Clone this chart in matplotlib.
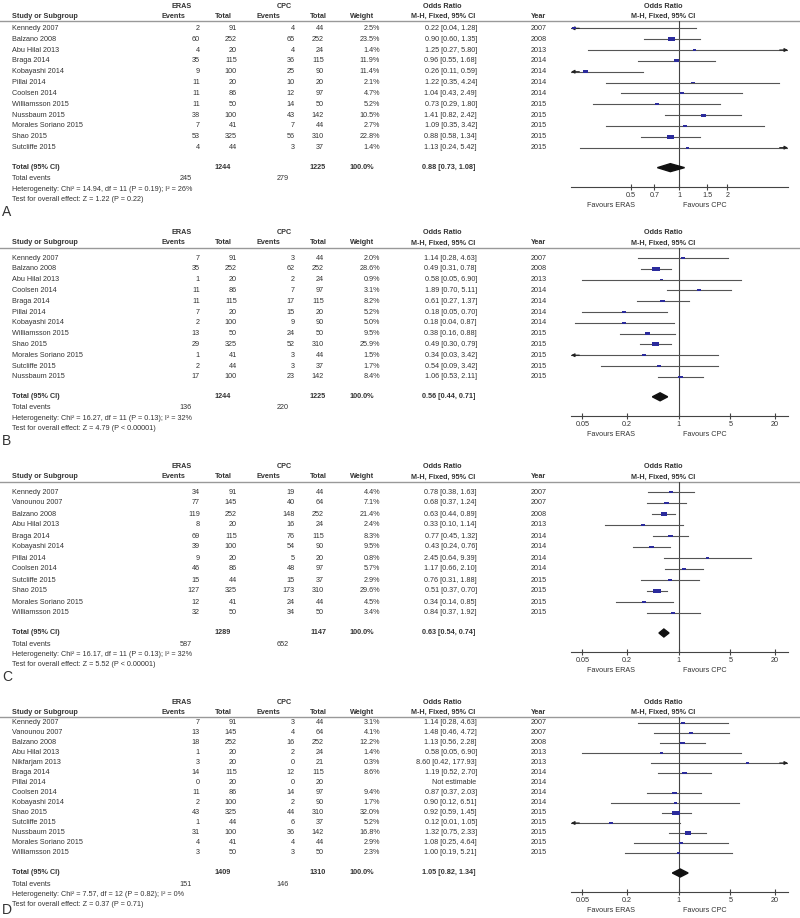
import numpy as np
import matplotlib
matplotlib.use("Agg")
import matplotlib.pyplot as plt
from matplotlib.path import Path
from matplotlib.patches import Polygon
from matplotlib.ticker import NullLocator

plt.rcParams['font.family'] = ['Liberation Sans', 'DejaVu Sans']

# ---- panel A ----
a_study = ["Kennedy 2007", "Balzano 2008", "Abu Hilal 2013", "Braga 2014", "Kobayashi 2014", "Pillai 2014",
           "Coolsen 2014", "Williamsson 2015", "Nussbaum 2015", "Morales Soriano 2015", "Shao 2015", "Sutcliffe 2015"]
a_eras_ev = [2, 60, 4, 35, 9, 11, 11, 11, 38, 7, 53, 4]
a_eras_tot = [91, 252, 20, 115, 100, 20, 86, 50, 100, 41, 325, 44]
a_cpc_ev = [4, 65, 4, 36, 25, 10, 12, 14, 43, 7, 56, 3]
a_cpc_tot = [44, 252, 24, 115, 90, 20, 97, 50, 142, 44, 310, 37]
a_weight = [2.5, 23.5, 1.4, 11.9, 11.4, 2.1, 4.7, 5.2, 10.5, 2.7, 22.8, 1.4]
a_or = [0.22, 0.90, 1.25, 0.96, 0.26, 1.22, 1.04, 0.73, 1.41, 1.09, 0.88, 1.13]
a_lo = [0.04, 0.60, 0.27, 0.55, 0.11, 0.35, 0.43, 0.29, 0.82, 0.35, 0.58, 0.24]
a_hi = [1.28, 1.35, 5.80, 1.68, 0.59, 4.24, 2.49, 1.80, 2.42, 3.42, 1.34, 5.42]
a_year = [2007, 2008, 2013, 2014, 2014, 2014, 2014, 2015, 2015, 2015, 2015, 2015]
a_totals = [1244, 1225]
a_events = [245, 279]
a_pooled = [0.88, 0.73, 1.08]
a_het = "Chi² = 14.94, df = 11 (P = 0.19); I² = 26%"
a_test = "Z = 1.22 (P = 0.22)"

# ---- panel B ----
b_study = ["Kennedy 2007", "Balzano 2008", "Abu Hilal 2013", "Coolsen 2014", "Braga 2014", "Pillai 2014",
           "Kobayashi 2014", "Williamsson 2015", "Shao 2015", "Morales Soriano 2015", "Sutcliffe 2015", "Nussbaum 2015"]
b_eras_ev = [7, 35, 1, 11, 11, 7, 2, 13, 29, 1, 2, 17]
b_eras_tot = [91, 252, 20, 86, 115, 20, 100, 50, 325, 41, 44, 100]
b_cpc_ev = [3, 62, 2, 7, 17, 15, 9, 24, 52, 3, 3, 23]
b_cpc_tot = [44, 252, 24, 97, 115, 20, 90, 50, 310, 44, 37, 142]
b_weight = [2.0, 28.6, 0.9, 3.1, 8.2, 5.2, 5.0, 9.5, 25.9, 1.5, 1.7, 8.4]
b_or = [1.14, 0.49, 0.58, 1.89, 0.61, 0.18, 0.18, 0.38, 0.49, 0.34, 0.54, 1.06]
b_lo = [0.28, 0.31, 0.05, 0.70, 0.27, 0.05, 0.04, 0.16, 0.30, 0.03, 0.09, 0.53]
b_hi = [4.63, 0.78, 6.90, 5.11, 1.37, 0.70, 0.87, 0.88, 0.79, 3.42, 3.42, 2.11]
b_year = [2007, 2008, 2013, 2014, 2014, 2014, 2014, 2015, 2015, 2015, 2015, 2015]
b_totals = [1244, 1225]
b_events = [136, 220]
b_pooled = [0.56, 0.44, 0.71]
b_het = "Chi² = 16.27, df = 11 (P = 0.13); I² = 32%"
b_test = "Z = 4.79 (P < 0.00001)"

# ---- panel C ----
c_study = ["Kennedy 2007", "Vanounou 2007", "Balzano 2008", "Abu Hilal 2013", "Braga 2014", "Kobayashi 2014",
           "Pillai 2014", "Coolsen 2014", "Sutcliffe 2015", "Shao 2015", "Morales Soriano 2015", "Williamsson 2015"]
c_eras_ev = [34, 77, 119, 8, 69, 39, 9, 46, 15, 127, 12, 32]
c_eras_tot = [91, 145, 252, 20, 115, 100, 20, 86, 44, 325, 41, 50]
c_cpc_ev = [19, 40, 148, 16, 76, 54, 5, 48, 15, 173, 24, 34]
c_cpc_tot = [44, 64, 252, 24, 115, 90, 20, 97, 37, 310, 44, 50]
c_weight = [4.4, 7.1, 21.4, 2.4, 8.3, 9.5, 0.8, 5.7, 2.9, 29.6, 4.5, 3.4]
c_or = [0.78, 0.68, 0.63, 0.33, 0.77, 0.43, 2.45, 1.17, 0.76, 0.51, 0.34, 0.84]
c_lo = [0.38, 0.37, 0.44, 0.10, 0.45, 0.24, 0.64, 0.66, 0.31, 0.37, 0.14, 0.37]
c_hi = [1.63, 1.24, 0.89, 1.14, 1.32, 0.76, 9.39, 2.10, 1.88, 0.70, 0.85, 1.92]
c_year = [2007, 2007, 2008, 2013, 2014, 2014, 2014, 2014, 2015, 2015, 2015, 2015]
c_totals = [1289, 1147]
c_events = [587, 652]
c_pooled = [0.63, 0.54, 0.74]
c_het = "Chi² = 16.17, df = 11 (P = 0.13); I² = 32%"
c_test = "Z = 5.52 (P < 0.00001)"

# ---- panel D ----
d_study = ["Kennedy 2007", "Vanounou 2007", "Balzano 2008", "Abu Hilal 2013", "Nikfarjam 2013", "Braga 2014",
           "Pillai 2014", "Coolsen 2014", "Kobayashi 2014", "Shao 2015", "Sutcliffe 2015", "Nussbaum 2015",
           "Morales Soriano 2015", "Williamsson 2015"]
d_eras_ev = [7, 13, 18, 1, 3, 14, 0, 11, 2, 43, 1, 31, 4, 3]
d_eras_tot = [91, 145, 252, 20, 20, 115, 20, 86, 100, 325, 44, 100, 41, 50]
d_cpc_ev = [3, 4, 16, 2, 0, 12, 0, 14, 2, 44, 6, 36, 4, 3]
d_cpc_tot = [44, 64, 252, 24, 21, 115, 20, 97, 90, 310, 37, 142, 44, 50]
d_weight = [3.1, 4.1, 12.2, 1.4, 0.3, 8.6, np.nan, 9.4, 1.7, 32.0, 5.2, 16.8, 2.9, 2.3]
d_or = [1.14, 1.48, 1.13, 0.58, 8.60, 1.19, np.nan, 0.87, 0.90, 0.92, 0.12, 1.32, 1.08, 1.00]
d_lo = [0.28, 0.46, 0.56, 0.05, 0.42, 0.52, np.nan, 0.37, 0.12, 0.59, 0.01, 0.75, 0.25, 0.19]
d_hi = [4.63, 4.72, 2.28, 6.90, 177.93, 2.70, np.nan, 2.03, 6.51, 1.45, 1.05, 2.33, 4.64, 5.21]
d_year = [2007, 2007, 2008, 2013, 2013, 2014, 2014, 2014, 2014, 2015, 2015, 2015, 2015, 2015]
d_totals = [1409, 1310]
d_events = [151, 146]
d_pooled = [1.05, 0.82, 1.34]
d_het = "Chi² = 7.57, df = 12 (P = 0.82); I² = 0%"
d_test = "Z = 0.37 (P = 0.71)"

ticks_narrow = [0.5, 0.7, 1, 1.5, 2]
ticks_wide = [0.05, 0.2, 1, 5, 20]

W, H = 800, 918
FS = 5.2
TXT = '#333333'
CI_COL = '#555555'
BOX_COL = '#2b2b9c'
BOX = Path([(-1, -0.55), (1, -0.55), (1, 0.55), (-1, 0.55), (-1, -0.55)], closed=True)

fig = plt.figure(figsize=(W / 100, H / 100), dpi=100)
bg = fig.add_axes([0, 0, 1, 1])
bg.set_xlim(0, W)
bg.set_ylim(H, 0)
bg.axis('off')


def txt(x, y, s, ha='left', bold=False, size=FS):
    bg.text(x, y, s, ha=ha, va='center', fontsize=size, color=TXT,
            fontweight='bold' if bold else 'normal')


def fmt_ci(o, l, h):
    return "{:.2f} [{:.2f}, {:.2f}]".format(o, l, h)


def draw_panel(letter, line_y, row0, dy, study, e_ev, e_tot, c_ev, c_tot, wt, orr, lo, hi, year,
               totals, events, pooled, het, test, xlim, ticks):
    n = len(study)
    ys = row0 + dy * np.arange(n)
    tot_y = ys[-1] + 20
    axis_y = tot_y + 19

    # cabecera
    txt(182, line_y - 15, "ERAS", 'center', True)
    txt(284, line_y - 15, "CPC", 'center', True)
    txt(442, line_y - 15, "Odds Ratio", 'center', True)
    txt(663, line_y - 15, "Odds Ratio", 'center', True)
    r2 = line_y - 5
    txt(12, r2, "Study or Subgroup", 'left', True)
    txt(173, r2, "Events", 'center', True)
    txt(223, r2, "Total", 'center', True)
    txt(268, r2, "Events", 'center', True)
    txt(318, r2, "Total", 'center', True)
    txt(362, r2, "Weight", 'center', True)
    txt(443, r2, "M-H, Fixed, 95% CI", 'center', True)
    txt(539, r2, "Year", 'center', True)
    txt(663, r2, "M-H, Fixed, 95% CI", 'center', True)
    bg.plot([0, W], [line_y, line_y], color='#999999', lw=1.0)

    # filas de estudios
    for i in range(n):
        y = ys[i]
        txt(12, y, study[i])
        txt(200, y, str(e_ev[i]), 'right')
        txt(237, y, str(e_tot[i]), 'right')
        txt(295, y, str(c_ev[i]), 'right')
        txt(324, y, str(c_tot[i]), 'right')
        if not np.isnan(wt[i]):
            txt(380, y, "{:.1f}%".format(wt[i]), 'right')
        if np.isnan(orr[i]):
            txt(454, y, "Not estimable", 'center')
        else:
            txt(477, y, fmt_ci(orr[i], lo[i], hi[i]), 'right')
        txt(539, y, str(year[i]), 'center')

    # totales
    txt(12, tot_y, "Total (95% CI)", 'left', True)
    txt(223, tot_y, str(totals[0]), 'center', True)
    txt(318, tot_y, str(totals[1]), 'center', True)
    txt(362, tot_y, "100.0%", 'center', True)
    txt(475, tot_y, fmt_ci(*pooled), 'right', True)
    txt(12, tot_y + 11, "Total events")
    txt(186, tot_y + 11, str(events[0]), 'center')
    txt(283, tot_y + 11, str(events[1]), 'center')
    txt(12, tot_y + 22, "Heterogeneity: " + het)
    txt(12, tot_y + 32, "Test for overall effect: " + test)
    bg.text(2, min(tot_y + 44, H - 8), letter, ha='left', va='center', fontsize=10, color=TXT)

    # grafico
    ax = fig.add_axes([571 / W, 1 - axis_y / H, (788 - 571) / W, (axis_y - line_y) / H])
    ax.set_xscale('log')
    ax.set_xlim(*xlim)
    ax.set_ylim(axis_y, line_y)
    ax.patch.set_alpha(0)
    for s in ['top', 'right', 'left']:
        ax.spines[s].set_visible(False)
    ax.spines['bottom'].set_color('#444444')
    ax.spines['bottom'].set_linewidth(0.8)
    ax.set_yticks([])
    ax.set_xticks(ticks)
    ax.set_xticklabels(['%g' % t for t in ticks])
    ax.xaxis.set_minor_locator(NullLocator())
    ax.tick_params(axis='x', direction='inout', length=4, width=0.8, labelsize=FS,
                   pad=1.5, colors='#444444', labelcolor=TXT)
    ax.axvline(1, color='#444444', lw=0.8, zorder=1)

    for i in range(n):
        if np.isnan(orr[i]):
            continue
        y = ys[i]
        l2 = max(lo[i], xlim[0])
        h2 = min(hi[i], xlim[1])
        ax.plot([l2, h2], [y, y], color=CI_COL, lw=0.8, zorder=2)
        arrow = dict(arrowstyle='-|>', color='#222222', lw=0.8, mutation_scale=5, shrinkA=0, shrinkB=0)
        if lo[i] < xlim[0]:
            ax.annotate('', xy=(xlim[0], y), xytext=(6, 0), textcoords='offset points',
                        arrowprops=arrow, annotation_clip=False)
        if hi[i] > xlim[1]:
            ax.annotate('', xy=(xlim[1], y), xytext=(-6, 0), textcoords='offset points',
                        arrowprops=arrow, annotation_clip=False)
    ax.scatter(orr, ys, s=4 + 0.9 * np.nan_to_num(np.array(wt)), marker=BOX, color=BOX_COL,
               linewidths=0, zorder=3)

    o, l, h = pooled
    ax.add_patch(Polygon([(l, tot_y), (o, tot_y - 4), (h, tot_y), (o, tot_y + 4)],
                         closed=True, color='#111111', zorder=3))

    txt(611, axis_y + 19, "Favours ERAS", 'center')
    txt(705, axis_y + 19, "Favours CPC", 'center')


draw_panel("A", 21, 28.3, 10.85, a_study, a_eras_ev, a_eras_tot, a_cpc_ev, a_cpc_tot, a_weight,
           a_or, a_lo, a_hi, a_year, a_totals, a_events, a_pooled, a_het, a_test, (0.21, 4.8), ticks_narrow)
draw_panel("B", 248, 258, 10.8, b_study, b_eras_ev, b_eras_tot, b_cpc_ev, b_cpc_tot, b_weight,
           b_or, b_lo, b_hi, b_year, b_totals, b_events, b_pooled, b_het, b_test, (0.035, 30), ticks_wide)
draw_panel("C", 482, 492, 11, c_study, c_eras_ev, c_eras_tot, c_cpc_ev, c_cpc_tot, c_weight,
           c_or, c_lo, c_hi, c_year, c_totals, c_events, c_pooled, c_het, c_test, (0.035, 30), ticks_wide)
draw_panel("D", 717, 723, 10, d_study, d_eras_ev, d_eras_tot, d_cpc_ev, d_cpc_tot, d_weight,
           d_or, d_lo, d_hi, d_year, d_totals, d_events, d_pooled, d_het, d_test, (0.035, 30), ticks_wide)

fig.savefig("out.png", dpi=100)
